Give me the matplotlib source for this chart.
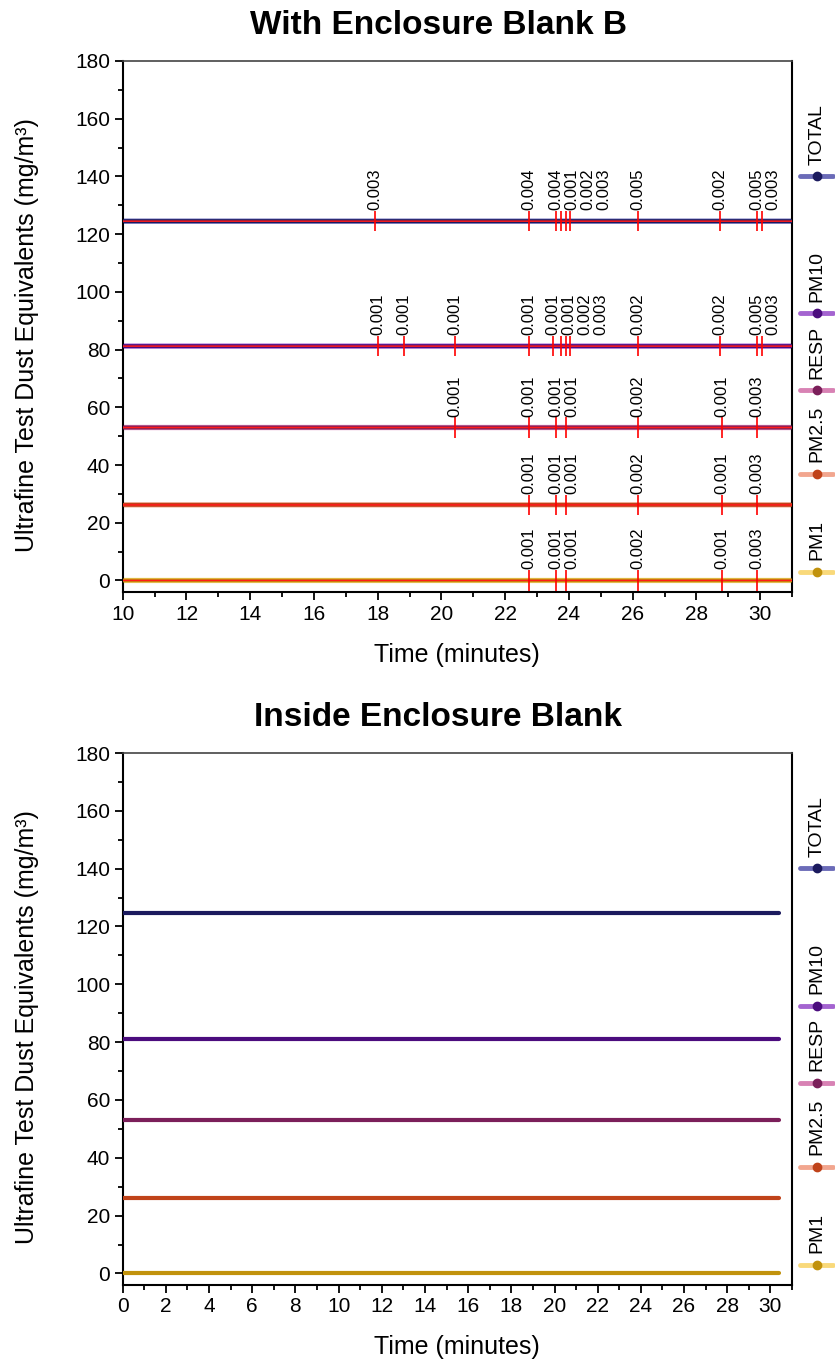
import matplotlib
matplotlib.use("Agg")
import matplotlib.pyplot as plt
from matplotlib.ticker import MultipleLocator
from matplotlib.lines import Line2D

plt.rcParams["font.family"] = ["Liberation Sans", "DejaVu Sans"]

# ---- data -------------------------------------------------------------
series = ["TOTAL", "PM10", "RESP", "PM2.5", "PM1"]
# stacked display level of each size fraction (offset trace)
levels = [124.5, 81.2, 53.0, 26.2, 0.0]

time_with = [0.0, 31.0]      # minutes, with-enclosure run
time_inside = [0.0, 30.4]    # minutes, inside-enclosure run

# detected peaks (time in minutes, concentration in mg/m3)
total_peak_t = [17.92, 22.75, 23.60, 23.75, 23.90, 24.05, 26.17, 28.75, 29.90, 30.05]
total_peak_v = [0.003, 0.004, 0.004, 0.001, 0.002, 0.003, 0.005, 0.002, 0.005, 0.003]
pm10_peak_t = [18.00, 18.83, 20.43, 22.75, 23.50, 23.75, 23.90, 24.05, 26.17, 28.75, 29.90, 30.05]
pm10_peak_v = [0.001, 0.001, 0.001, 0.001, 0.001, 0.001, 0.002, 0.003, 0.002, 0.002, 0.005, 0.003]
resp_peak_t = [20.43, 22.75, 23.60, 23.90, 26.17, 28.80, 29.90]
resp_peak_v = [0.001, 0.001, 0.001, 0.001, 0.002, 0.001, 0.003]
pm25_peak_t = [22.75, 23.60, 23.90, 26.17, 28.80, 29.90]
pm25_peak_v = [0.001, 0.001, 0.001, 0.002, 0.001, 0.003]
pm1_peak_t = [22.75, 23.60, 23.90, 26.17, 28.80, 29.90]
pm1_peak_v = [0.001, 0.001, 0.001, 0.002, 0.001, 0.003]

peaks_t = [total_peak_t, pm10_peak_t, resp_peak_t, pm25_peak_t, pm1_peak_t]
peaks_v = [total_peak_v, pm10_peak_v, resp_peak_v, pm25_peak_v, pm1_peak_v]

# ---- styling ----------------------------------------------------------
dark = ["#1b1a5e", "#4b0c7e", "#7b1f5a", "#c0431a", "#c1920c"]
light = ["#6b6bb8", "#a464d0", "#d882b4", "#f2a68f", "#f9d97a"]
legend_y = [0.783, 0.525, 0.380, 0.222, 0.038]   # axes-fraction slots

W, H = 835, 1364
fig = plt.figure(figsize=(W / 100, H / 100), dpi=100)

ax_left = 122.7 / W
ax_w = (792 - 122.7) / W
ax1 = fig.add_axes([ax_left, 1 - 592 / H, ax_w, (592 - 61) / H])
ax2 = fig.add_axes([ax_left, 1 - 1285 / H, ax_w, (1285 - 753) / H])


def spread(xs, gap):
    out = []
    for x in xs:
        if out and x < out[-1] + gap:
            x = out[-1] + gap
        out.append(x)
    return out


def style_axes(ax, xlim):
    ax.set_xlim(*xlim)
    ax.set_ylim(-4, 180)
    ax.xaxis.set_major_locator(MultipleLocator(2))
    ax.xaxis.set_minor_locator(MultipleLocator(1))
    ax.yaxis.set_major_locator(MultipleLocator(20))
    ax.yaxis.set_minor_locator(MultipleLocator(10))
    ax.tick_params(axis="both", which="major", direction="out", length=6,
                   width=1.3, labelsize=15, pad=3, right=False, top=False)
    ax.tick_params(axis="both", which="minor", direction="out", length=3.5,
                   width=1.3, right=False, top=False)
    for s in ("left", "bottom", "right"):
        ax.spines[s].set_linewidth(1.5)
        ax.spines[s].set_color("black")
    ax.spines["top"].set_linewidth(1.2)
    ax.spines["top"].set_color("#444444")


def draw_legend(ax):
    for name, dk, lt, yy in zip(series, dark, light, legend_y):
        ax.add_line(Line2D([1.012, 1.061], [yy, yy], transform=ax.transAxes,
                           color=lt, lw=3.5, solid_capstyle="round", clip_on=False))
        ax.add_line(Line2D([1.037], [yy], transform=ax.transAxes, marker="o",
                           ms=6, color=dk, clip_on=False))
        ax.text(1.037, yy + 0.022, name, transform=ax.transAxes, rotation=90,
                ha="center", va="bottom", fontsize=14, clip_on=False)


# ---- top panel: with enclosure ----------------------------------------
tick_half = 3.5
for lvl, dk, lt, pt, pv in zip(levels, dark, light, peaks_t, peaks_v):
    ax1.plot(time_with, [lvl, lvl], color=lt, lw=3.8, solid_capstyle="butt",
             snap=False, zorder=2)
    ax1.plot(time_with, [lvl, lvl], color=dk, lw=2.8, solid_capstyle="butt",
             snap=False, zorder=3)
    ax1.plot(time_with, [lvl, lvl], color="#ff1a1a", lw=1.1, solid_capstyle="butt",
             snap=False, zorder=4)
    ax1.vlines(pt, lvl - tick_half, lvl + tick_half, color="#ff0000", lw=1.2, zorder=5)
    for lx, v in zip(spread(pt, 0.5), pv):
        ax1.text(lx, lvl + tick_half + 0.3, f"{v:.3f}", rotation=90,
                 ha="center", va="bottom", fontsize=12, zorder=6)

style_axes(ax1, (10, 31))
draw_legend(ax1)

# ---- bottom panel: inside enclosure -----------------------------------
for lvl, dk in zip(levels, dark):
    ax2.plot(time_inside, [lvl, lvl], color=dk, lw=3.0, solid_capstyle="round", zorder=3)

style_axes(ax2, (0, 31))
draw_legend(ax2)

# ---- titles and axis labels -------------------------------------------
ylab = "Ultrafine Test Dust Equivalents (mg/m\u00b3)"
fig.text(438 / W, 1 - 25 / H, "With Enclosure Blank B", ha="center", va="center",
         fontsize=24, fontweight="bold")
fig.text(438 / W, 1 - 717 / H, "Inside Enclosure Blank", ha="center", va="center",
         fontsize=24, fontweight="bold")
fig.text(27 / W, 1 - 335 / H, ylab, rotation=90, ha="center", va="center", fontsize=18)
fig.text(27 / W, 1 - 1027 / H, ylab, rotation=90, ha="center", va="center", fontsize=18)
fig.text(457 / W, 1 - 655 / H, "Time (minutes)", ha="center", va="center", fontsize=18)
fig.text(457 / W, 1 - 1347 / H, "Time (minutes)", ha="center", va="center", fontsize=18)

fig.savefig("out.png", dpi=100)
